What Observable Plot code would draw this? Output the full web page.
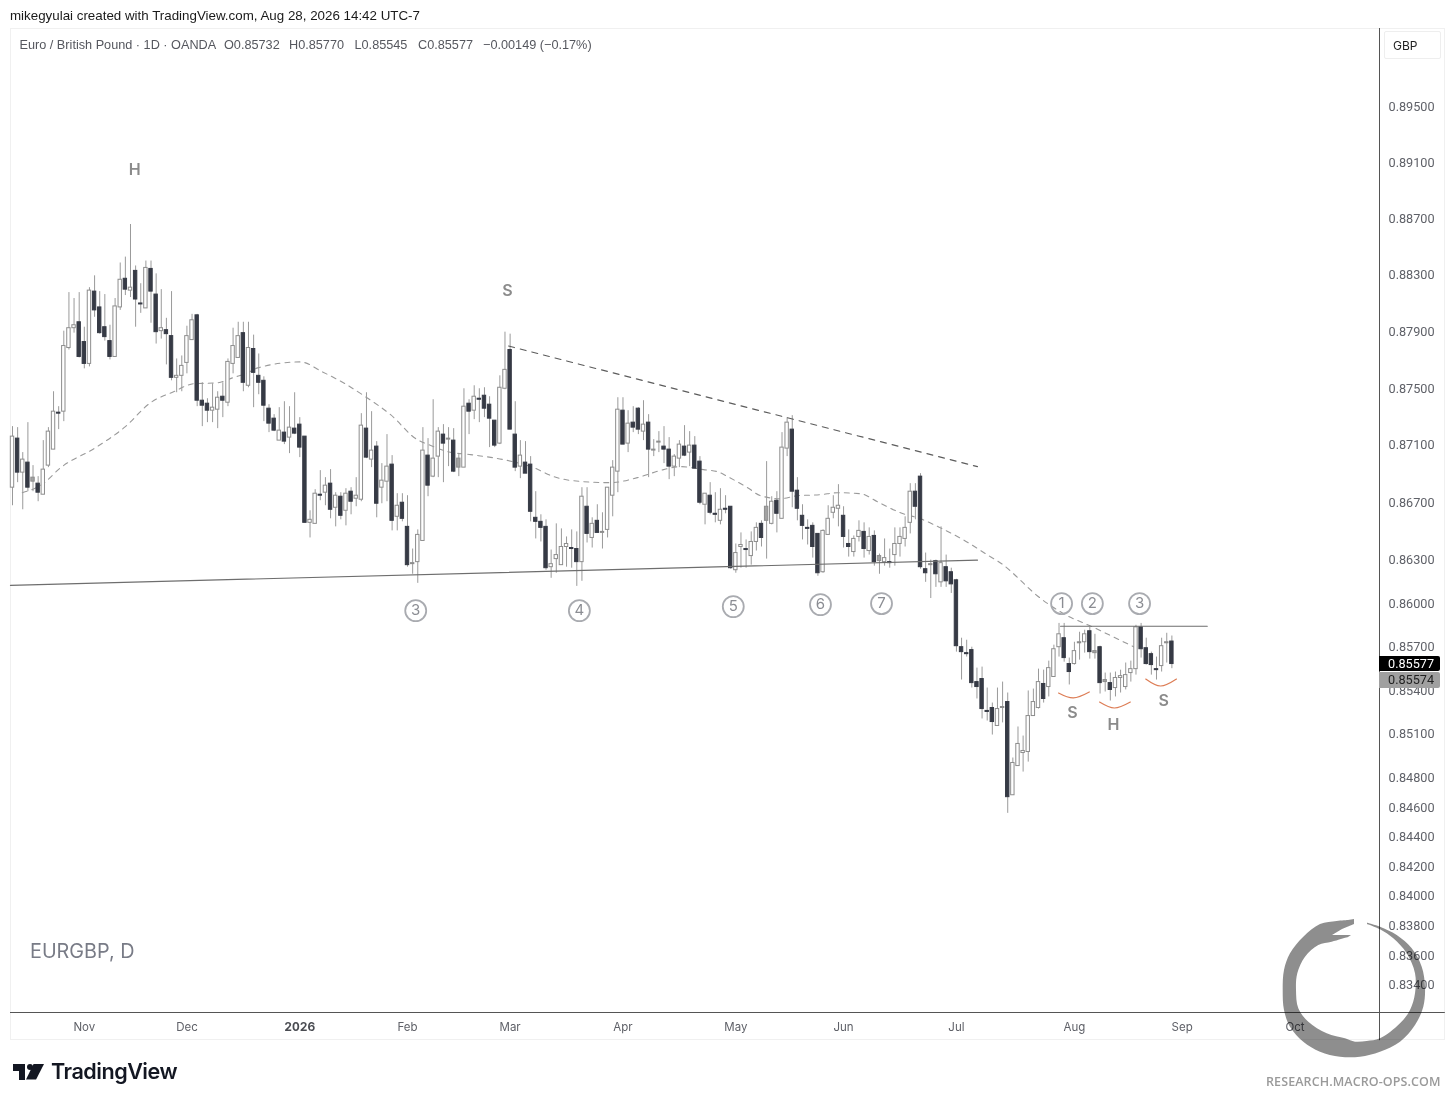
<!DOCTYPE html>
<html>
<head>
<meta charset="utf-8">
<script src="https://cdn.jsdelivr.net/npm/d3@7"></script>
<script src="https://cdn.jsdelivr.net/npm/@observablehq/plot@0.6"></script>
<style>
html,body{margin:0;padding:0;background:#fff;}
#page{position:relative;width:1456px;height:1104px;overflow:hidden;background:#fff;}
#page svg{position:absolute;left:0;top:0;background:transparent;}
.t{position:absolute;white-space:nowrap;line-height:1;}
#panel{position:absolute;left:10px;top:28px;width:1435px;height:1012px;border:1px solid #f0f0f0;box-sizing:border-box;}
</style>
</head>
<body>
<div id="page"><div id="panel"></div></div>
<script>
// Daily EUR/GBP candles, prices in 1/100000 units, one value per trading bar
const opens = [
86799,87142,86904,86974,86841,86827,86750,86953,87065,87324,
87331,87779,87919,87961,87821,87667,88178,88066,87926,87828,
87716,88066,88269,88185,88325,88094,88059,88339,88157,87898,
87905,87863,87569,87583,87674,87835,88010,87408,87387,87338,
87345,87436,87394,87667,87709,87884,87513,87772,87583,87548,
87352,87282,87128,87184,87149,87212,87240,87156,86554,86547,
86750,86764,86827,86659,86736,86638,86771,86722,86715,87212,
86995,87086,86799,86841,86960,86596,86694,86526,86267,86281,
86428,87023,86876,87016,87170,87135,87128,86939,86939,87387,
87338,87422,87443,87380,87268,87107,87492,87765,87170,86946,
86974,86960,86589,86561,86526,86246,86302,86260,86386,86379,
86372,86281,86666,86449,86568,86484,86505,86743,86911,87338,
87107,87254,87352,87191,87254,87058,87114,87086,87065,86946,
87002,87086,87044,87093,86981,86680,86743,86617,86568,86652,
86666,86225,86386,86372,86323,86421,86547,86568,86547,86708,
86582,87072,87205,86778,86603,86519,86533,86477,86211,86470,
86624,86652,86603,86407,86351,86456,86491,86358,86463,86288,
86281,86281,86330,86407,86442,86554,86771,86876,86232,86260,
86288,86141,86246,86211,86155,85693,85652,85673,85453,85474,
85255,85275,85152,85275,85316,84679,84878,84967,84974,85220,
85275,85440,85419,85488,85693,85755,85577,85577,85720,85727,
85803,85652,85693,85453,85446,85412,85481,85419,85515,85542,
85830,85686,85645,85542,85563,85720,85732];
const closes = [
87156,86904,86995,86799,86869,86764,86925,87191,87331,87317,
87793,87919,87940,87716,87667,88185,88045,87884,87856,87716,
88073,88262,88192,88206,88122,88087,88346,88178,87891,87919,
87877,87569,87583,87653,87863,87975,87408,87373,87338,87359,
87429,87408,87681,87793,87863,87534,87779,87604,87534,87373,
87247,87198,87198,87121,87219,87177,87079,86554,86575,86757,
86743,86813,86645,86743,86603,86757,86701,86743,87233,87009,
87058,86687,86848,86946,86568,86673,86582,86260,86274,86470,
87058,86813,87002,87191,87107,87142,86911,87002,87366,87331,
87436,87415,87352,87282,87093,87499,87625,87205,86939,87023,
86897,86631,86561,86519,86239,86267,86330,86386,86407,86372,
86281,86736,86477,86547,86484,86491,86799,86939,87345,87100,
87247,87219,87205,87240,87065,87065,87121,87065,86946,87016,
87100,87023,87093,86932,86694,86757,86624,86610,86645,86645,
86239,86344,86400,86365,86421,86519,86449,86666,86701,86617,
87079,87254,86771,86652,86533,86512,86386,86204,86498,86582,
86659,86673,86456,86386,86442,86498,86372,86456,86281,86323,
86309,86274,86407,86456,86519,86771,86666,86246,86204,86267,
86197,86274,86148,86127,85700,85659,85645,85446,85419,85268,
85248,85179,85268,85282,84666,84899,85029,84981,85220,85316,
85453,85337,85549,85679,85782,85618,85522,85666,85727,85782,
85659,85666,85446,85467,85399,85481,85494,85501,85542,85830,
85679,85577,85570,85535,85700,85727,85577];
const highs = [
87226,87219,87044,87254,86953,86876,87128,87219,87471,87366,
87898,88171,88129,88171,87926,88206,88290,88178,88157,87940,
88129,88381,88423,88655,88360,88234,88395,88395,88304,88192,
87989,88178,87702,87723,87933,88017,88017,87534,87422,87527,
87471,87534,87702,87919,87961,87961,87961,87870,87737,87576,
87380,87310,87359,87401,87366,87464,87289,87156,86638,86785,
86918,86869,86925,86764,86764,86792,86799,86869,87317,87464,
87331,87121,86967,87170,87023,86757,86757,86743,86372,86505,
87219,87142,87415,87219,87240,87219,87212,87030,87492,87415,
87513,87492,87499,87436,87268,87583,87891,87877,87401,87128,
87121,87016,86771,86610,86575,86365,86547,86512,86456,86505,
86491,86799,86799,86589,86680,86624,86799,86988,87429,87429,
87338,87366,87359,87408,87310,87135,87191,87226,87149,87030,
87128,87233,87191,87156,87016,86757,86834,86764,86792,86743,
86666,86407,86484,86435,86491,86554,86568,86981,86736,86771,
87184,87289,87303,86869,86680,86575,86554,86477,86505,86673,
86743,86820,86666,86505,86463,86568,86554,86519,86498,86337,
86442,86372,86519,86519,86596,86827,86827,86897,86344,86295,
86295,86526,86330,86239,86162,85755,85741,85693,85549,85556,
85412,85309,85412,85453,85378,84933,85145,85083,85392,85405,
85542,85535,85597,85707,85857,85857,85618,85727,85796,85810,
85830,85782,85700,85515,85515,85522,85535,85584,85597,85844,
85857,85755,85659,85625,85755,85789,85770];
const lows = [
86673,86834,86645,86771,86771,86701,86750,86939,87065,87205,
87261,87765,87884,87709,87632,87646,87996,87877,87828,87695,
87716,88045,88150,88136,87926,88024,88059,87954,87807,87842,
87660,87548,87464,87471,87597,87835,87366,87226,87254,87254,
87212,87289,87366,87597,87709,87471,87499,87359,87450,87261,
87184,87191,87128,87100,87037,87170,87009,86554,86449,86547,
86708,86673,86582,86526,86575,86533,86610,86666,86701,87002,
86939,86589,86687,86701,86498,86498,86561,86246,86197,86134,
86428,86736,86869,86869,86834,86946,86904,86876,86939,87170,
87275,87254,87289,87079,87079,87100,87485,87205,86911,86862,
86897,86561,86442,86421,86225,86169,86204,86260,86246,86239,
86113,86148,86414,86379,86484,86372,86449,86596,86764,87100,
87044,87184,87170,87128,86869,87016,87044,86967,86855,86876,
86939,87016,86946,86932,86680,86540,86610,86554,86540,86617,
86232,86204,86239,86239,86260,86358,86386,86302,86540,86484,
86582,87016,86659,86568,86435,86400,86309,86183,86204,86470,
86582,86526,86379,86316,86316,86421,86309,86330,86253,86197,
86253,86239,86253,86316,86386,86477,86575,86232,86141,86029,
86106,86106,86106,86064,85659,85467,85625,85412,85337,85200,
85186,85090,85152,85173,84556,84679,84878,84837,84905,85220,
85268,85309,85351,85488,85625,85590,85433,85570,85604,85652,
85611,85611,85371,85385,85323,85351,85378,85399,85453,85501,
85618,85570,85501,85467,85522,85584,85545];
// Bars that read as a grey-filled body rather than hollow
const grayBars = [4,78,87,147,169,179,208,211,213,225];

// Moving average: bar position and level
const maBars = [1.9,5.7,9.4,16.2,22,26.9,31.4,35.3,40,42.9,45.8,47.8,56.1,60.4,64.5,68.8,73.7,78.9,81.1,84.8,89.3,95.7,101.6,105.5,111.3,116.6,121.8,126.9,130.2,134.7,137.4,139.4,143.3,145.8,149.7,153,157.5,160.8,165.3,168.6,173.1,177,180.9,185.4,190.1,193.2,196.5,199,204.9,210.7,217.9,219.5];
const maValues = [86764,86820,86939,87079,87226,87394,87471,87527,87534,87569,87604,87639,87681,87611,87534,87436,87310,87135,87100,87051,87030,86995,86939,86876,86841,86834,86869,86925,86946,86925,86911,86876,86799,86743,86722,86743,86750,86764,86757,86701,86624,86582,86519,86435,86330,86260,86155,86071,85924,85830,85707,85680];

// Axis ticks
const priceTicks = [0.895,0.891,0.887,0.883,0.879,0.875,0.871,0.867,0.863,0.860,0.857,0.854,0.851,0.848,0.846,0.844,0.842,0.840,0.838,0.836,0.834];
const monthBars = [14,34,77,97,119,141,162,184,207,228,250];
const monthLabels = ["Nov","Dec","Feb","Mar","Apr","May","Jun","Jul","Aug","Sep","Oct"];
const yearBars = [56];
const yearLabels = ["2026"];

// Annotations
const letterText = ["H","S","S","H","S"];
const letterBars = [23.8,96.5,206.6,214.6,224.4];
const letterLevels = [89048,88186,85241,85159,85323];
const circleText = ["3","4","5","6","7","1","2","3"];
const circleBars = [78.6,110.5,140.5,157.5,169.4,204.5,210.5,219.7];
const circleLevels = [85945,85945,85973,85987,85994,85994,85994,85994];
const supportBars = [-0.39,188.1];
const supportLevels = [86120,86295];
const trendBars = [96.7,188.1];
const trendLevels = [87793,86946];
const neckBars = [204.3,232.9];
const neckLevels = [85837,85837];
const arcs = [
  {bars:[203.9,206.8,209.9],levels:[85378,85344,85385]},
  {bars:[211.9,214.8,217.9],levels:[85316,85275,85316]},
  {bars:[220.9,223.8,226.9],levels:[85474,85426,85474]}
];

// Scale limits
const xDomain = [-0.39,266.47];
const xPanelEnd = 279.3;
const yDomain = [0.83213,0.90063];
const yPanelEnd = 0.83025;

const px = v => v / 1e5;
const candles = opens.map((o,i)=>({i,o:px(o),c:px(closes[i]),h:px(highs[i]),l:px(lows[i]),up:closes[i]>=o,gray:grayBars.includes(i)}));
const pairs = (b,l)=>b.map((x,k)=>({x,y:px(l[k])}));
const ma = pairs(maBars,maValues);
const halfBody = 0.33;
const dark = "#363a45", hollow = "#8d8d8d", wick = "#9a9a9a", labelGray = "#8b8b8b";

const chart = Plot.plot({
  width:1456,height:1104,
  marginLeft:10,marginRight:77,marginTop:28,marginBottom:92,
  style:{fontFamily:"Inter, sans-serif",fontSize:"12px",background:"transparent",overflow:"visible"},
  x:{domain:xDomain,axis:null},
  y:{type:"log",domain:yDomain,axis:null},
  marks:[
    Plot.axisY(priceTicks,{anchor:"right",tickSize:0,tickPadding:9,dy:0.8,tickFormat:d3.format(".5f"),label:null,fill:"#5f6168",fontSize:12.7,fontFamily:"Roboto, sans-serif"}),
    Plot.axisX(monthBars,{anchor:"bottom",tickSize:0,tickPadding:10,tickFormat:d=>monthLabels[monthBars.indexOf(d)],label:null,fill:"#5f6168",fontSize:11.5}),
    Plot.axisX(yearBars,{anchor:"bottom",tickSize:0,tickPadding:10,tickFormat:d=>yearLabels[yearBars.indexOf(d)],label:null,fill:"#4a4c52",fontSize:12,fontWeight:700}),
    Plot.line(ma,{x:"x",y:"y",stroke:"#9a9a9a",strokeWidth:1.1,strokeDasharray:"5,5",curve:"monotone-x"}),
    Plot.ruleX(candles,{x:"i",y1:"l",y2:"h",stroke:wick,strokeWidth:1}),
    Plot.rect(candles.filter(d=>d.up),{x1:d=>d.i-halfBody,x2:d=>d.i+halfBody,y1:"o",y2:"c",fill:d=>d.gray?"#a2a2a2":"#ffffff",stroke:hollow,strokeWidth:1}),
    Plot.rect(candles.filter(d=>!d.up),{x1:d=>d.i-halfBody,x2:d=>d.i+halfBody,y1:"o",y2:"c",fill:dark,stroke:dark,strokeWidth:1}),
    Plot.line(pairs(supportBars,supportLevels),{x:"x",y:"y",stroke:"#6e6e6e",strokeWidth:1.2}),
    Plot.line(pairs(trendBars,trendLevels),{x:"x",y:"y",stroke:"#5c5c5c",strokeWidth:1.2,strokeDasharray:"6,6"}),
    Plot.line(pairs(neckBars,neckLevels),{x:"x",y:"y",stroke:"#6e6e6e",strokeWidth:1.1}),
    ...arcs.map(a=>Plot.line(pairs(a.bars,a.levels),{x:"x",y:"y",stroke:"#dd7d55",strokeWidth:1.2,curve:"natural"})),
    Plot.dot(circleBars.map((x,k)=>({x,y:px(circleLevels[k])})),{x:"x",y:"y",r:10.5,fill:"#fff",fillOpacity:0,stroke:"#a9abb0",strokeWidth:1.8}),
    Plot.text(circleBars.map((x,k)=>({x,y:px(circleLevels[k]),t:circleText[k]})),{x:"x",y:"y",text:"t",fill:"#8b8d93",fontSize:15}),
    Plot.text(letterBars.map((x,k)=>({x,y:px(letterLevels[k]),t:letterText[k]})),{x:"x",y:"y",text:"t",fill:labelGray,fontSize:16,fontWeight:600}),
    Plot.ruleY([yDomain[0]],{x1:xDomain[0],x2:xPanelEnd,stroke:"#555",strokeWidth:1}),
    Plot.ruleX([xDomain[1]],{y1:yPanelEnd,y2:yDomain[1],stroke:"#555",strokeWidth:1})
  ]
});
const page = document.getElementById("page");
page.appendChild(chart);

function addText(txt,left,top,css){
  const d=document.createElement("div");d.className="t";d.textContent=txt;
  d.style.left=left+"px";d.style.top=top+"px";d.style.cssText+=css;page.appendChild(d);return d;
}
const sans="font-family:'Liberation Sans',sans-serif;";
addText("mikegyulai created with TradingView.com, Aug 28, 2026 14:42 UTC-7",10,9,sans+"font-size:13.35px;color:#1a1a1a;");
const legendCss=sans+"font-size:12.7px;color:#55575e;";
[["Euro / British Pound \u00b7 1D \u00b7 OANDA",19.5],["O0.85732",224],["H0.85770",289],["L0.85545",354.5],["C0.85577",418],["\u22120.00149 (\u22120.17%)",483]]
  .forEach(([s,l])=>addText(s,l,39,legendCss));
addText("EURGBP, D",30,942,"font-family:Inter,sans-serif;font-size:19.8px;color:#787b86;");
// price-scale badges and currency box
addText("GBP",1384,31,"font-family:Inter,sans-serif;font-size:12px;color:#222;width:57px;height:28px;line-height:28px;padding-left:8px;box-sizing:border-box;border:1px solid #eee;border-radius:2px;background:#fff;");
addText("0.85577",1379,656,"font-family:Roboto,sans-serif;font-size:12.7px;color:#fff;background:#000;width:61px;height:15px;line-height:15px;padding-left:9px;box-sizing:border-box;border-radius:0 2px 2px 0;");
addText("0.85574",1379,672,"font-family:Roboto,sans-serif;font-size:12.7px;color:#222;background:#a0a0a0;width:61px;height:16px;line-height:16px;padding-left:9px;box-sizing:border-box;border-radius:0 2px 2px 0;");
// TradingView wordmark
const mk=(l,t,w,h,clip,bg)=>{const d=document.createElement("div");d.style.cssText=`position:absolute;left:${l}px;top:${t}px;width:${w}px;height:${h}px;background:${bg||"#131722"};${clip?`clip-path:${clip};`:""}`;page.appendChild(d);};
mk(12.5,1064,12.5,6.5);
mk(18.5,1064,6.5,15.5);
mk(27,1064,6,6,"circle(50%)");
mk(26,1064,18,15.5,"polygon(42% 0,100% 0,56% 100%,0 100%)");
addText("TradingView",51,1061,"font-family:Inter,sans-serif;font-weight:600;font-size:21.6px;letter-spacing:-0.5px;color:#131722;");
addText("RESEARCH.MACRO-OPS.COM",1266,1076,"font-family:'Open Sans',sans-serif;font-weight:600;font-size:12.5px;color:#9a9a9a;letter-spacing:0.1px;");
// Ouroboros watermark, multiplied over the axes so their labels stay legible
const ringOuter=[[88,10],[76.7,11],[60,14],[43.3,26.7],[30,43.3],[24,60],[22.7,80],[24,100],[30,116.7],[43.3,131.7],[60,141.7],[80,146.7],[100,146.7],[120,141.7],[140,131.7],[155,115],[163.3,96.7],[165,76.7],[161.7,56.7],[151.7,38.3],[136.7,25],[120,16.7],[107,12.7]];
const ringInner=[[107,14],[120,19.3],[133.3,28.3],[146.7,43.3],[155,63.3],[155,83.3],[150,100],[140,113.3],[120,128.3],[106.7,131],[95,131.7],[85,128.3],[66.7,123.3],[48.3,111.7],[38.3,98.3],[36,80],[37.3,63.3],[45,46.7],[58.3,35],[71.7,31.7],[88,27]];
const outerPath=d3.line().curve(d3.curveCatmullRom)(ringOuter);
const innerPath=d3.line().curve(d3.curveCatmullRom)(ringInner).replace(/^M/,"L");
const ringPath=outerPath+innerPath+"L91,25L72,25L82,19L94,14L94,9Z";
const ring=document.createElement("div");
ring.style.cssText=`position:absolute;left:1260px;top:910px;width:196px;height:190px;background:#8e8e8e;mix-blend-mode:multiply;clip-path:path("${ringPath}");`;
page.appendChild(ring);
</script>
</body>
</html>
